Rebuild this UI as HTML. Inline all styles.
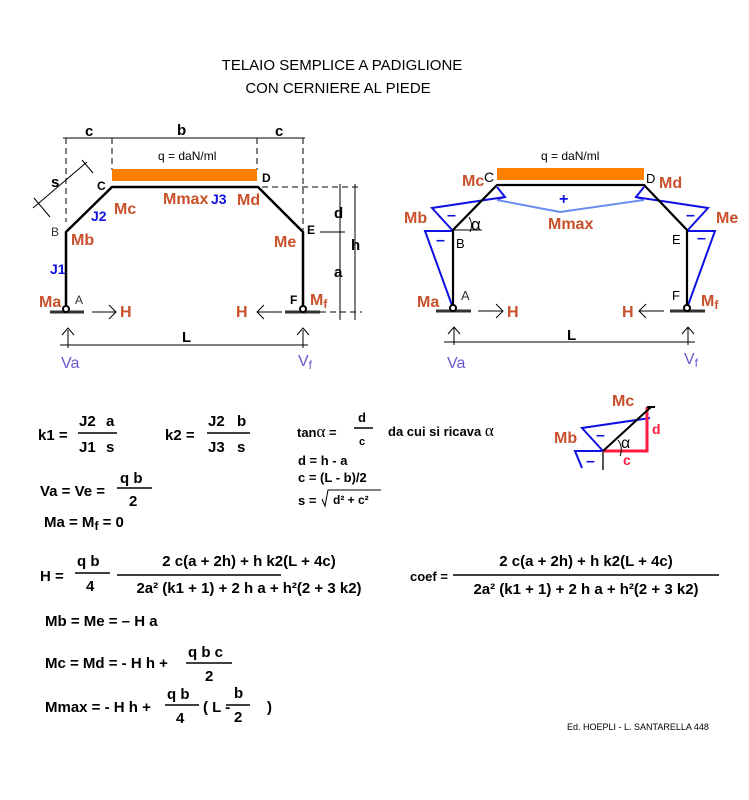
<!DOCTYPE html>
<html><head><meta charset="utf-8"><style>
html,body{margin:0;padding:0;background:#fff;width:749px;height:800px;overflow:hidden}
svg{display:block}
text{font-family:"Liberation Sans",Arial,sans-serif}
.f{font-size:15px;font-weight:bold;fill:#000}
.o{fill:#c8502a;font-weight:bold;font-size:16px}
.b{fill:#1010e0;font-weight:bold;font-size:14px}
.v{fill:#6a5acd;font-size:16px}
</style></head><body>
<svg width="749" height="800" viewBox="0 0 749 800">
<text x="342" y="70" text-anchor="middle" font-size="15">TELAIO SEMPLICE A PADIGLIONE</text>
<text x="338" y="93" text-anchor="middle" font-size="15">CON CERNIERE AL PIEDE</text>

<!-- LEFT FRAME -->
<g stroke="#000" stroke-width="1" fill="none">
<line x1="63" y1="138" x2="305" y2="138"/>
<g stroke-dasharray="6,4">
<line x1="66" y1="138" x2="66" y2="222"/>
<line x1="112" y1="138" x2="112" y2="170"/>
<line x1="257" y1="138" x2="257" y2="170"/>
<line x1="303" y1="138" x2="303" y2="230"/>
<line x1="262" y1="187" x2="362" y2="187"/>
<line x1="320" y1="312" x2="362" y2="312"/>
</g>
<line x1="320" y1="232" x2="345" y2="232"/>
<line x1="340" y1="184" x2="340" y2="320"/>
<line x1="355" y1="184" x2="355" y2="320"/>
<line x1="33" y1="208" x2="87" y2="162"/>
<line x1="34" y1="198" x2="50" y2="217"/>
<line x1="82" y1="160" x2="93" y2="173"/>
<line x1="60" y1="345" x2="308" y2="345"/>
<line x1="68" y1="330" x2="68" y2="348"/><polyline points="62,335 68,328 74,335"/>
<line x1="303" y1="330" x2="303" y2="348"/><polyline points="297,335 303,328 309,335"/>
<line x1="92" y1="312" x2="115" y2="312"/><polyline points="109,305 116,312 109,319"/>
<line x1="258" y1="312" x2="282" y2="312"/><polyline points="264,305 257,312 264,319"/>
</g>
<rect x="112" y="169" width="145" height="12" fill="#ff8000"/>
<polyline points="66,310 66,232 112,187 258,187 303,232 303,310" fill="none" stroke="#000" stroke-width="2.5"/>
<line x1="50" y1="312" x2="84" y2="312" stroke="#333" stroke-width="3"/>
<line x1="285" y1="312" x2="320" y2="312" stroke="#333" stroke-width="3"/>
<circle cx="66" cy="309" r="3" fill="#fff" stroke="#000" stroke-width="2"/>
<circle cx="303" cy="309" r="3" fill="#fff" stroke="#000" stroke-width="2"/>
<text x="85" y="136" class="f" font-size="13">c</text>
<text x="177" y="135" class="f" font-size="13">b</text>
<text x="275" y="136" class="f" font-size="13">c</text>
<text x="51" y="187" class="f" font-size="13">s</text>
<text x="158" y="160" font-size="12">q = daN/ml</text>
<text x="97" y="190" font-size="12" font-weight="bold">C</text>
<text x="262" y="182" font-size="12" font-weight="bold">D</text>
<text x="51" y="236" font-size="12" fill="#333">B</text>
<text x="307" y="234" font-size="12" font-weight="bold">E</text>
<text x="75" y="304" font-size="12" fill="#333">A</text>
<text x="290" y="304" font-size="12" font-weight="bold">F</text>
<text x="334" y="218" class="f">d</text>
<text x="334" y="277" class="f">a</text>
<text x="351" y="250" class="f">h</text>
<text x="182" y="342" class="f">L</text>
<text x="114" y="214" class="o" font-size="14">Mc</text>
<text x="163" y="204" class="o" font-size="13">Mmax</text>
<text x="211" y="204" class="b" font-size="13">J3</text>
<text x="237" y="205" class="o" font-size="14">Md</text>
<text x="91" y="221" class="b" font-size="13">J2</text>
<text x="71" y="245" class="o">Mb</text>
<text x="274" y="247" class="o">Me</text>
<text x="50" y="274" class="b" font-size="13">J1</text>
<text x="39" y="307" class="o">Ma</text>
<text x="310" y="305" class="o">M<tspan font-size="12" dy="3">f</tspan></text>
<text x="120" y="317" class="o">H</text>
<text x="236" y="317" class="o">H</text>
<text x="61" y="368" class="v">Va</text>
<text x="298" y="366" class="v">V<tspan font-size="12" dy="3">f</tspan></text>

<!-- RIGHT FRAME -->
<rect x="497" y="168" width="147" height="12" fill="#ff8000"/>
<g fill="none" stroke="#1010e0" stroke-width="2">
<polyline points="453,231 432,208 505,197"/>
<polyline points="453,231 425,231 453,308"/>
<polyline points="497,187 505,197 497,199"/>
<polyline points="687,231 708,208 635,197"/>
<polyline points="687,231 715,231 687,308"/>
<polyline points="644,187 636,197 644,199"/>
</g>
<polyline points="497,200 560,212 644,200" fill="none" stroke="#6a8cf0" stroke-width="2"/>
<polyline points="453,308 453,230 497,185 644,185 687,230 687,308" fill="none" stroke="#000" stroke-width="2.2"/>
<g stroke="#000" stroke-width="1" fill="none">
<line x1="453" y1="230" x2="482" y2="230"/>
<path d="M469,217 A16,16 0 0 1 470,232"/>
<line x1="444" y1="342" x2="695" y2="342"/>
<line x1="454" y1="328" x2="454" y2="345"/><polyline points="448,334 454,327 460,334"/>
<line x1="688" y1="328" x2="688" y2="345"/><polyline points="682,334 688,327 694,334"/>
<line x1="478" y1="311" x2="502" y2="311"/><polyline points="496,304 503,311 496,318"/>
<line x1="640" y1="311" x2="664" y2="311"/><polyline points="646,304 639,311 646,318"/>
</g>
<line x1="436" y1="311" x2="471" y2="311" stroke="#333" stroke-width="3"/>
<line x1="670" y1="311" x2="705" y2="311" stroke="#333" stroke-width="3"/>
<circle cx="453" cy="308" r="3" fill="#fff" stroke="#000" stroke-width="2"/>
<circle cx="687" cy="308" r="3" fill="#fff" stroke="#000" stroke-width="2"/>
<text x="541" y="160" font-size="12">q = daN/ml</text>
<text x="462" y="186" class="o" font-size="15">Mc</text>
<text x="484" y="182" font-size="14">C</text>
<text x="646" y="183" font-size="13">D</text>
<text x="659" y="188" class="o" font-size="15">Md</text>
<text x="404" y="223" class="o">Mb</text>
<text x="716" y="223" class="o">Me</text>
<text x="548" y="229" class="o" font-size="14">Mmax</text>
<text x="471" y="230" font-size="17" font-family="Liberation Serif">α</text>
<text x="456" y="248" font-size="13">B</text>
<text x="672" y="244" font-size="13">E</text>
<text x="461" y="300" font-size="13" fill="#333">A</text>
<text x="672" y="300" font-size="13">F</text>
<text x="417" y="307" class="o">Ma</text>
<text x="701" y="306" class="o">M<tspan font-size="12" dy="3">f</tspan></text>
<text x="507" y="317" class="o">H</text>
<text x="622" y="317" class="o">H</text>
<text x="567" y="340" class="f">L</text>
<text x="447" y="368" class="v">Va</text>
<text x="684" y="364" class="v">V<tspan font-size="12" dy="3">f</tspan></text>
<g fill="#1010e0" font-weight="bold" font-size="16">
<text x="447" y="220">–</text><text x="436" y="245">–</text>
<text x="559" y="204">+</text>
<text x="686" y="220">–</text><text x="697" y="243">–</text>
</g>

<!-- SMALL DIAGRAM -->
<g fill="none" stroke-width="2">
<polyline points="603,451 582,428 650,418" stroke="#1010e0"/>
<polyline points="603,451 575,451 582,468" stroke="#1010e0"/>
<line x1="603" y1="451" x2="603" y2="470" stroke="#555"/>
<polyline points="603,451 647,451 647,407" stroke="#ff1a40" stroke-width="3"/>
<line x1="603" y1="451" x2="651" y2="407" stroke="#000"/>
<line x1="647" y1="407" x2="655" y2="407" stroke="#000"/>
<path d="M618,440 A16,16 0 0 1 620,456" stroke="#000" stroke-width="1"/>
</g>
<text x="612" y="406" class="o" font-size="14">Mc</text>
<text x="554" y="443" class="o" font-size="14">Mb</text>
<text x="652" y="434" fill="#ff1a40" font-weight="bold" font-size="14">d</text>
<text x="623" y="465" fill="#ff1a40" font-weight="bold" font-size="14">c</text>
<text x="621" y="448" font-size="16" font-family="Liberation Serif">α</text>
<text x="596" y="440" fill="#1010e0" font-weight="bold">–</text>
<text x="586" y="466" fill="#1010e0" font-weight="bold">–</text>

<!-- FORMULAS -->
<g class="f">
<text x="38" y="440">k1 =</text>
<text x="79" y="426">J2</text><text x="106" y="426">a</text>
<line x1="78" y1="433" x2="117" y2="433" stroke="#000" stroke-width="1.5"/>
<text x="79" y="452">J1</text><text x="106" y="452">s</text>
<text x="165" y="440">k2 =</text>
<text x="208" y="426">J2</text><text x="237" y="426">b</text>
<line x1="207" y1="433" x2="250" y2="433" stroke="#000" stroke-width="1.5"/>
<text x="208" y="452">J3</text><text x="237" y="452">s</text>
<text x="297" y="437" font-size="13">tan<tspan font-family="Liberation Serif" font-size="17" font-weight="normal">α</tspan> =</text>
<text x="358" y="422" font-size="13">d</text>
<line x1="354" y1="428" x2="373" y2="428" stroke="#000" stroke-width="1.5"/>
<text x="359" y="445" font-size="11">c</text>
<text x="388" y="436" font-size="13">da cui si ricava <tspan font-family="Liberation Serif" font-size="17" font-weight="normal">α</tspan></text>
<text x="298" y="465" font-size="13">d = h - a</text>
<text x="298" y="482" font-size="13">c = (L - b)/2</text>
<text x="298" y="505" font-size="13">s =</text>
<path d="M322,499 L325,506 L328,490 L381,490" fill="none" stroke="#000" stroke-width="1"/>
<text x="333" y="504" font-size="12">d² + c²</text>
<text x="40" y="496">Va = Ve =</text>
<text x="120" y="483">q b</text>
<line x1="117" y1="488" x2="152" y2="488" stroke="#000" stroke-width="1.5"/>
<text x="129" y="506">2</text>
<text x="44" y="527">Ma = M<tspan font-size="12" dy="3">f</tspan><tspan dy="-3"> = 0</tspan></text>
<text x="40" y="581">H =</text>
<text x="77" y="566">q b</text>
<line x1="75" y1="573" x2="110" y2="573" stroke="#000" stroke-width="1.5"/>
<text x="86" y="591">4</text>
<text x="249" y="566" text-anchor="middle">2 c(a + 2h) + h k2(L + 4c)</text>
<line x1="117" y1="575" x2="281" y2="575" stroke="#000" stroke-width="1.5"/>
<text x="249" y="593" text-anchor="middle">2a² (k1 + 1) + 2 h a + h²(2 + 3 k2)</text>
<text x="410" y="581" font-size="13">coef =</text>
<text x="586" y="566" text-anchor="middle">2 c(a + 2h) + h k2(L + 4c)</text>
<line x1="453" y1="575" x2="719" y2="575" stroke="#000" stroke-width="1.5"/>
<text x="586" y="594" text-anchor="middle">2a² (k1 + 1) + 2 h a + h²(2 + 3 k2)</text>
<text x="45" y="626">Mb = Me = – H a</text>
<text x="45" y="668">Mc = Md = - H h +</text>
<text x="188" y="657">q b c</text>
<line x1="186" y1="663" x2="232" y2="663" stroke="#000" stroke-width="1.5"/>
<text x="205" y="681">2</text>
<text x="45" y="712">Mmax = - H h +</text>
<text x="167" y="699">q b</text>
<line x1="165" y1="705" x2="199" y2="705" stroke="#000" stroke-width="1.5"/>
<text x="176" y="723">4</text>
<text x="203" y="712">( L -</text>
<text x="234" y="698">b</text>
<line x1="226" y1="705" x2="250" y2="705" stroke="#000" stroke-width="1.5"/>
<text x="234" y="722">2</text>
<text x="267" y="712">)</text>
</g>
<text x="567" y="730" font-size="9">Ed. HOEPLI - L. SANTARELLA  448</text>
</svg>
</body></html>
